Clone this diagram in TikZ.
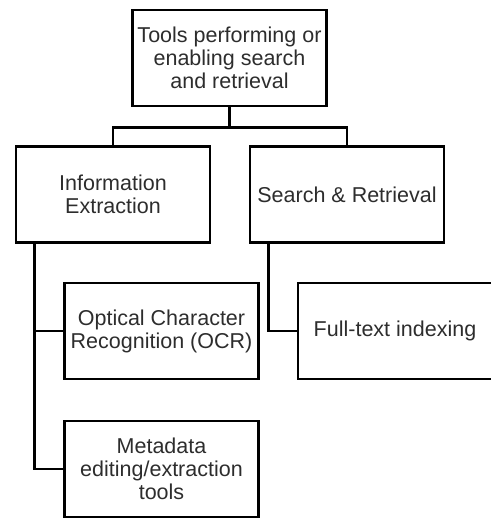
\documentclass[tikz,border=0pt]{standalone}
\usepackage{fontspec}
\setmainfont{Liberation Sans}
\definecolor{labelgray}{RGB}{45,45,45}

\begin{document}
\begin{tikzpicture}[
		x=1pt,
		y=-1pt,
		line width=2.9pt,
		font=\fontsize{21.5}{23}\selectfont,
		box/.style={draw, align=center, text=labelgray, inner sep=2pt, minimum width=194pt, minimum height=96pt}
		]
		\useasboundingbox (0,0) rectangle (490,518);
		
		% Root
		\node[box] (root) at (229.5,58) {Tools performing or\\enabling search\\and retrieval};
		
		% Two branches
		\node[box] (extract) at (113,194.5) {Information\\Extraction};
		\node[box] (search) at (347,194.5) {Search \& Retrieval};
		
		% Leaves
		\node[box] (ocr) at (161.5,331) {Optical Character\\Recognition (OCR)};
		\node[box] (meta) at (161.5,469) {Metadata\\editing/extraction\\tools};
		\node[box] (fulltext) at (395,331) {Full-text indexing};
		
		% Tree lines
		\draw (root.south) -- ++(0,20) -| (extract.north);
		\draw (root.south) -- ++(0,20) -| (search.north);
		\draw ([xshift=20pt]extract.south west) |- (ocr.west);
		\draw ([xshift=20pt]extract.south west) |- (meta.west);
		\draw ([xshift=20pt]search.south west) |- (fulltext.west);
	\end{tikzpicture}
\end{document}
